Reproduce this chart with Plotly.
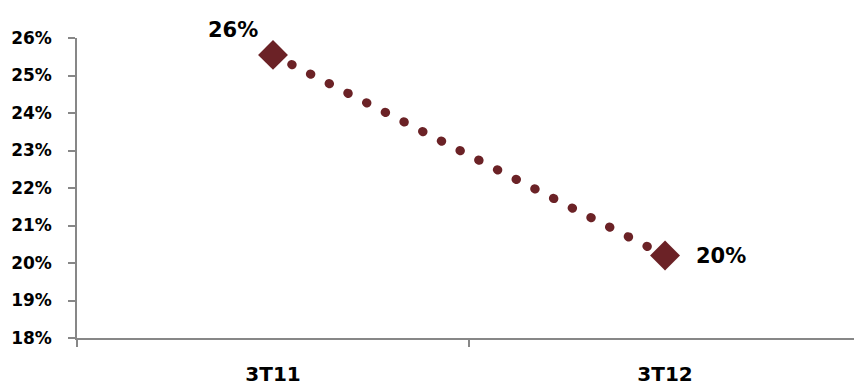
import plotly.graph_objects as go

# Quarterly ratio, in percent
quarters = ["3T11", "3T12"]
values = [25.55, 20.2]
value_labels = ["26%", "20%"]
y_ticks = [18, 19, 20, 21, 22, 23, 24, 25, 26]
y_tick_text = [f"{v}%" for v in y_ticks]

wine = "#6B2226"
axis_grey = "#878787"
font_family = "'DejaVu Sans', 'Liberation Sans', sans-serif"

fig = go.Figure()

# Dotted connector between the two quarters (round dots via round line caps)
fig.add_trace(go.Scatter(
    x=quarters, y=values, mode="lines",
    line=dict(color=wine, width=9, dash="0.5px,20.5px"),
    hoverinfo="skip", showlegend=False,
))

# Diamond markers
fig.add_trace(go.Scatter(
    x=quarters, y=values, mode="markers",
    marker=dict(symbol="diamond", size=23, color=wine, line=dict(width=0)),
    showlegend=False,
))

# Value labels next to each marker
fig.add_annotation(x=quarters[0], y=values[0], text=f"<b>{value_labels[0]}</b>",
                   showarrow=False, xanchor="center", yanchor="middle",
                   xshift=-40, yshift=25,
                   font=dict(family=font_family, size=21, color="black"))
fig.add_annotation(x=quarters[1], y=values[1], text=f"<b>{value_labels[1]}</b>",
                   showarrow=False, xanchor="left", yanchor="middle",
                   xshift=29, yshift=0,
                   font=dict(family=font_family, size=21, color="black"))

fig.update_layout(
    width=854, height=387,
    margin=dict(l=77, r=0, t=38, b=49),
    paper_bgcolor="white", plot_bgcolor="white",
    font=dict(family=font_family, size=16, color="black"),
    xaxis=dict(
        type="category", range=[-0.5, 1.482],
        showline=True, linecolor=axis_grey, linewidth=1.5,
        ticks="outside", tickson="boundaries", ticklen=7,
        tickcolor=axis_grey, tickwidth=1.5,
        showgrid=False, zeroline=False,
        tickfont=dict(family=font_family, size=20, color="black", weight="bold"),
        ticklabelstandoff=17,
    ),
    yaxis=dict(
        range=[18, 26], tickvals=y_ticks, ticktext=y_tick_text,
        showline=True, linecolor=axis_grey, linewidth=1.5,
        ticks="outside", ticklen=7, tickcolor=axis_grey, tickwidth=1.5,
        showgrid=False, zeroline=False,
        tickfont=dict(family=font_family, size=17, color="black", weight="bold"),
        ticklabelstandoff=13,
    ),
)

# Give the dashed connector round caps so each dash renders as a dot
round_caps = """
var gd = document.getElementById('{plot_id}');
function roundDots() {
  gd.querySelectorAll('.scatterlayer .js-line').forEach(function (p) {
    p.style.strokeLinecap = 'round';
  });
}
roundDots();
gd.on('plotly_afterplot', roundDots);
"""

fig.write_html("out.html", post_script=round_caps)
